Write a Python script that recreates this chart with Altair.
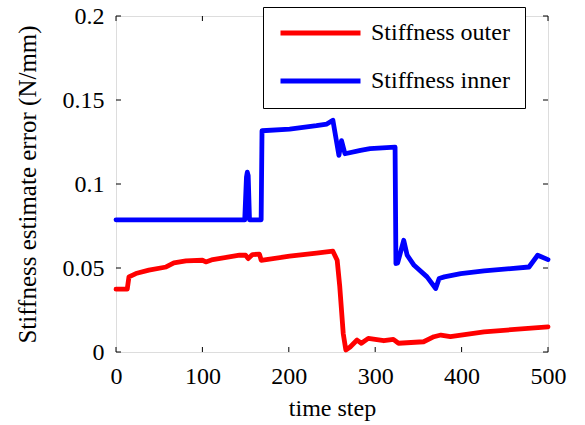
import altair as alt
import pandas as pd

# ---- data ----
x_ticks = [0, 100, 200, 300, 400, 500]
y_ticks = [0, 0.05, 0.1, 0.15, 0.2]

series = ["Stiffness outer", "Stiffness inner"]
colors = ["#ff0000", "#0000ff"]

outer_step = [0, 13, 15, 23, 38, 58, 67, 81, 100, 104, 112, 143, 150, 153, 158, 166,
              167, 168, 201, 232, 251, 256, 259, 263, 266, 271, 279, 284, 292, 310,
              321, 327, 356, 368, 376, 387, 426, 500]
outer_err = [0.0374, 0.0374, 0.0447, 0.0467, 0.0487, 0.0506, 0.053, 0.0542, 0.0546,
             0.0536, 0.055, 0.0576, 0.0576, 0.0556, 0.058, 0.0582, 0.0566, 0.0546,
             0.057, 0.0589, 0.060, 0.0546, 0.0388, 0.011, 0.0012, 0.003, 0.0071,
             0.0052, 0.0081, 0.0067, 0.0075, 0.0052, 0.0061, 0.0091, 0.0101, 0.0091,
             0.012, 0.015]

inner_step = [0, 149, 151, 152, 153, 154.5, 168, 169, 201, 232, 244, 251, 258, 261,
              265, 283, 294, 323, 324, 326, 333, 337, 345, 360, 370, 374, 380, 399,
              426, 478, 488, 500]
inner_err = [0.0787, 0.0787, 0.104, 0.107, 0.105, 0.0787, 0.0787, 0.1317, 0.1327,
             0.1347, 0.1357, 0.138, 0.117, 0.1258, 0.118, 0.120, 0.121, 0.122,
             0.0526, 0.053, 0.0665, 0.0576, 0.0516, 0.0447, 0.0378, 0.0437, 0.0447,
             0.0467, 0.0483, 0.0506, 0.0576, 0.055]

df = pd.concat([
    pd.DataFrame({"step": outer_step, "err": outer_err, "series": series[0]}),
    pd.DataFrame({"step": inner_step, "err": inner_err, "series": series[1]}),
], ignore_index=True)

W, H = 432, 336
FONT = "Liberation Serif"
TICK = 5

xs = alt.Scale(domain=[0, 500], nice=False, zero=False)
ys = alt.Scale(domain=[0, 0.2], nice=False)

xaxis = alt.Axis(values=x_ticks, title="time step", domain=False, ticks=False,
                 grid=False, labelFont=FONT, labelFontSize=24, labelColor="black",
                 labelPadding=12, labelFlush=False,
                 titleFont=FONT, titleFontSize=24, titleFontWeight="normal",
                 titleColor="black", titleY=63, titleBaseline="alphabetic")
yaxis = alt.Axis(values=y_ticks, format="~g", title="Stiffness estimate error (N/mm)",
                 domain=False, ticks=False, grid=False, labelFont=FONT,
                 labelFontSize=24, labelColor="black", labelPadding=12,
                 labelFlush=False,
                 titleFont=FONT, titleFontSize=25, titleFontWeight="normal",
                 titleColor="black", titleX=-89, titleY=H / 2,
                 titleBaseline="middle")

lines = alt.Chart(df).mark_line(strokeWidth=4.8, strokeCap="round", strokeJoin="round").encode(
    x=alt.X("step:Q", scale=xs, axis=xaxis, title="time step"),
    y=alt.Y("err:Q", scale=ys, axis=yaxis, title="Stiffness estimate error (N/mm)"),
    color=alt.Color("series:N", scale=alt.Scale(domain=series, range=colors),
                    legend=alt.Legend(title=None, orient="none", legendX=147, legendY=-9,
                                      padding=15, rowPadding=24, symbolType="stroke",
                                      symbolSize=6400, symbolStrokeWidth=4.8,
                                      clipHeight=22, labelOffset=8, labelFont=FONT,
                                      labelFontSize=24, labelColor="black",
                                      strokeColor="black", fillColor="white",
                                      cornerRadius=0)),
)

xt = pd.DataFrame({"t": x_ticks})
yt = pd.DataFrame({"t": y_ticks})

bottom = alt.Chart(xt).mark_rule(color="black", strokeWidth=1).encode(
    x=alt.X("t:Q", scale=xs, axis=xaxis, title="time step"),
    y=alt.value(H), y2=alt.value(H - TICK))
top = alt.Chart(xt).mark_rule(color="black", strokeWidth=1).encode(
    x=alt.X("t:Q", scale=xs, axis=xaxis, title="time step"),
    y=alt.value(0), y2=alt.value(TICK))
left = alt.Chart(yt).mark_rule(color="black", strokeWidth=1).encode(
    y=alt.Y("t:Q", scale=ys, axis=yaxis, title="Stiffness estimate error (N/mm)"),
    x=alt.value(0), x2=alt.value(TICK))
right = alt.Chart(yt).mark_rule(color="black", strokeWidth=1).encode(
    y=alt.Y("t:Q", scale=ys, axis=yaxis, title="Stiffness estimate error (N/mm)"),
    x=alt.value(W), x2=alt.value(W - TICK))

chart = alt.layer(lines, bottom, top, left, right).properties(
    width=W, height=H,
    autosize=alt.AutoSizeParams(type="none"),
    padding={"left": 116, "top": 16, "right": 37, "bottom": 73},
    background="white",
).configure_view(stroke="black", strokeWidth=1.2).configure(font=FONT)

chart.save("out.html", embed_options={"renderer": "svg", "actions": False})
